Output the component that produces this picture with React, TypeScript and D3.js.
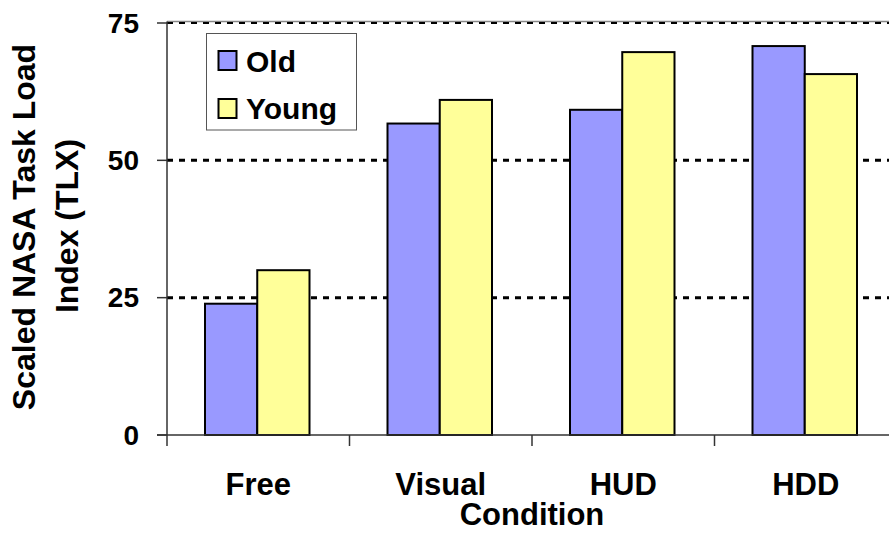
import React from "react";
import * as d3 from "d3";

const categories = ["Free", "Visual", "HUD", "HDD"];
const series = ["Old", "Young"];
const oldValues = [23.9, 56.7, 59.2, 70.8];
const youngValues = [30.0, 61.0, 69.7, 65.7];
const yTicks = [0, 25, 50, 75];
const seriesColors = ["#9999FF", "#FFFF99"];

const W = 889;
const H = 533;

export default function App() {
  const x0 = d3.scaleBand<string>().domain(categories).range([167, 897]).padding(0);
  const bw = x0.bandwidth();
  const x1 = d3.scaleBand<string>().domain(series).range([38, 142.5]).padding(0);
  const y = d3.scaleLinear().domain([0, 75]).range([435, 23]);
  const values = [oldValues, youngValues];
  const font = "Arial, 'Liberation Sans', Helvetica, sans-serif";

  return (
    <svg
      width={W}
      height={H}
      style={{ position: "absolute", left: 0, top: 0, background: "#fff" }}
      fontFamily={font}
      fontWeight="bold"
    >
      {/* top plot border */}
      <line x1={167} x2={W} y1={21.5} y2={21.5} stroke="#888" strokeWidth={1.5} />
      {/* gridlines */}
      {yTicks.filter((t) => t > 0).map((t) => (
        <line
          key={t}
          x1={167}
          x2={W}
          y1={y(t)}
          y2={y(t)}
          stroke="#000"
          strokeWidth={t === 75 ? 2 : 3}
          strokeDasharray="6 6"
        />
      ))}
      {/* bars */}
      {categories.map((c, i) => (
        <g key={c} transform={`translate(${x0(c)},0)`}>
          {series.map((s, j) => (
            <rect
              key={s}
              x={x1(s)!}
              y={y(values[j][i])}
              width={x1.bandwidth()}
              height={y(0) - y(values[j][i])}
              fill={seriesColors[j]}
              stroke="#000"
              strokeWidth={2}
            />
          ))}
        </g>
      ))}
      {/* axes */}
      <line x1={167} x2={167} y1={21.5} y2={435} stroke="#333" strokeWidth={1.5} />
      <line x1={157} x2={W} y1={435} y2={435} stroke="#333" strokeWidth={1.5} />
      {yTicks.map((t) => (
        <g key={t}>
          <line x1={157} x2={167} y1={y(t)} y2={y(t)} stroke="#333" strokeWidth={1.5} />
          <text x={139} y={y(t)} dy="0.35em" textAnchor="end" fontSize={28} fill="#000">
            {t}
          </text>
        </g>
      ))}
      {categories.concat(["end"]).map((c, i) => {
        const xx = 167 + i * bw;
        return <line key={c} x1={xx} x2={xx} y1={435} y2={446} stroke="#333" strokeWidth={1.5} />;
      })}
      {/* category labels */}
      {categories.map((c) => (
        <text
          key={c}
          x={x0(c)! + bw / 2}
          y={495}
          textAnchor="middle"
          fontSize={31}
          fill="#000"
        >
          {c}
        </text>
      ))}
      <text x={(167 + 897) / 2} y={525} textAnchor="middle" fontSize={31} fill="#000">
        Condition
      </text>
      {/* y title */}
      <text
        transform="translate(35,227) rotate(-90)"
        textAnchor="middle"
        fontSize={32}
        fill="#000"
      >
        Scaled NASA Task Load
      </text>
      <text
        transform="translate(78,226) rotate(-90)"
        textAnchor="middle"
        fontSize={32}
        fill="#000"
      >
        Index (TLX)
      </text>
      {/* legend */}
      <rect x={206.5} y={33.5} width={150} height={96.5} fill="#fff" stroke="#555" strokeWidth={1} />
      {series.map((s, j) => (
        <g key={s}>
          <rect
            x={218.5}
            y={51 + j * 48}
            width={18}
            height={19}
            fill={seriesColors[j]}
            stroke="#000"
            strokeWidth={2}
          />
          <text x={246} y={72 + j * 47} fontSize={30} fill="#000">
            {s}
          </text>
        </g>
      ))}
    </svg>
  );
}
